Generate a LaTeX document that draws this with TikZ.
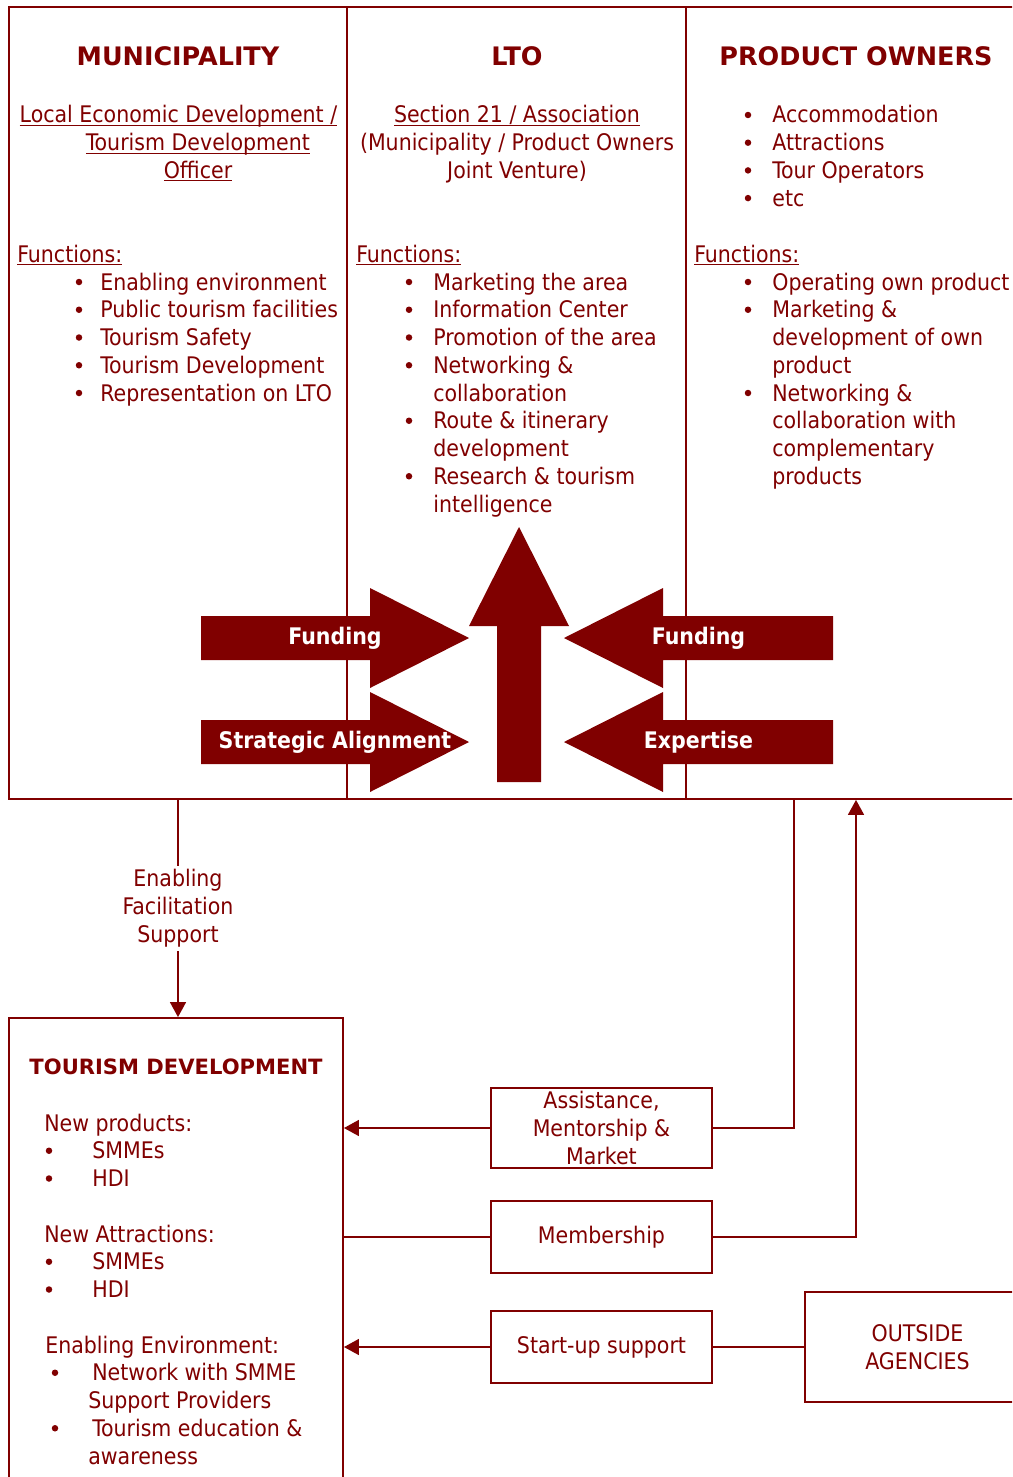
\documentclass[tikz,border=0pt]{standalone}
\usepackage{fontspec}
\setmainfont{DejaVu Sans Condensed}
\newfontfamily\wideface{DejaVu Sans}
\usepackage{tikz}
\usetikzlibrary{arrows.meta}
\definecolor{tdRed}{RGB}{128,0,0}
\newcommand\ulword[1]{\underline{\smash{#1}}}

\begin{document}
\begin{tikzpicture}[x=0.02cm, y=-0.02cm, color=tdRed,
    col/.style={draw, line width=1.1pt, minimum height=15.84cm},
    box/.style={draw, line width=1.1pt, minimum width=4.42cm, align=center,
                inner sep=0pt, font=\fontsize{13}{15.9}\selectfont},
    txt/.style={inner sep=0pt, font=\fontsize{13}{15.9}\selectfont},
    head/.style={inner sep=0pt, font=\wideface\bfseries\fontsize{14.5}{17}\selectfont},
    lbl/.style={inner sep=0pt, text=white, font=\bfseries\fontsize{13}{15.9}\selectfont},
    dot/.style={circle, fill, inner sep=0pt, minimum size=0.13cm},
    link/.style={line width=1.1pt},
    into/.style={link, -{Triangle[length=8.5pt, width=9pt]}}
  ]
  \useasboundingbox (0,0) rectangle (1012,1477);
  \clip (0,0) rectangle (1012,1477);

  % the three partners
  \node[col, minimum width=6.76cm] (muni) at (178,403) {};
  \node[col, minimum width=6.78cm] (lto) at (516.5,403) {};
  \node[col, minimum width=6.8cm] (po) at (856,403) {};

  % block arrows into the LTO
  \foreach \tx/\hx/\px/\yc/\word [count=\i] in {201/370/469/638/Funding,
      201/370/469/742/Strategic Alignment, 833/663/564/638/Funding,
      833/663/564/742/Expertise} {
    \fill (\tx,\yc-22) -- (\hx,\yc-22) -- (\hx,\yc-50) -- (\px,\yc)
      -- (\hx,\yc+50) -- (\hx,\yc+22) -- (\tx,\yc+22) -- cycle;
    \node[lbl] (flow\i) at ({(\tx+\px)/2},\yc) {\word};
  }
  \fill (497,782) -- (497,626) -- (469,626) -- (519,527) -- (569,626)
    -- (541,626) -- (541,782) -- cycle;

  % municipality
  \node[head] (muni-t) at (178,56) {MUNICIPALITY};
  \node[txt, anchor=base] (muni-s1) at (178.5,123) {\ulword{Local Economic Development /}};
  \node[txt, anchor=base] (muni-s2) at (198,151) {\ulword{Tourism Development}};
  \node[txt, anchor=base] (muni-s3) at (198,178) {\ulword{Officer}};
  \node[txt, anchor=base west] (muni-f) at (17,262) {\ulword{Functions:}};
  \foreach \word [count=\i from 0] in {Enabling environment,
      Public tourism facilities, Tourism Safety, Tourism Development,
      Representation on LTO} {
    \node[dot] (muni-d\i) at (79,282+27.75*\i) {};
    \node[txt, anchor=base west] (muni-i\i) at (100,290+27.75*\i) {\word};
  }

  % LTO
  \node[head] (lto-t) at (517,56) {LTO};
  \node[txt, anchor=base] (lto-s1) at (517,123) {\ulword{Section 21 / Association}};
  \node[txt, anchor=base] (lto-s2) at (517,151) {(Municipality / Product Owners};
  \node[txt, anchor=base] (lto-s3) at (517,178) {Joint Venture)};
  \node[txt, anchor=base west] (lto-f) at (356,262) {\ulword{Functions:}};
  \foreach \hasdot/\word [count=\i from 0] in {1/Marketing the area,
      1/Information Center, 1/Promotion of the area, 1/Networking \&,
      0/collaboration, 1/Route \& itinerary, 0/development,
      1/Research \& tourism, 0/intelligence} {
    \ifnum\hasdot=1 \node[dot] (lto-d\i) at (409,282+27.75*\i) {}; \fi
    \node[txt, anchor=base west] (lto-i\i) at (433,290+27.75*\i) {\word};
  }

  % product owners
  \node[head] (po-t) at (856,56) {PRODUCT OWNERS};
  \foreach \word [count=\i from 0] in {Accommodation, Attractions,
      Tour Operators, etc} {
    \node[dot] (po-d\i) at (748,115+27.7*\i) {};
    \node[txt, anchor=base west] (po-k\i) at (772,123+27.7*\i) {\word};
  }
  \node[txt, anchor=base west] (po-f) at (694,262) {\ulword{Functions:}};
  \foreach \hasdot/\word [count=\i from 0] in {1/Operating own product,
      1/Marketing \&, 0/development of own, 0/product, 1/Networking \&,
      0/collaboration with, 0/complementary, 0/products} {
    \ifnum\hasdot=1 \node[dot] (po-e\i) at (748,282+27.75*\i) {}; \fi
    \node[txt, anchor=base west] (po-i\i) at (772,290+27.75*\i) {\word};
  }

  % tourism development
  \node[col, minimum width=6.68cm, minimum height=9.44cm] (td) at (176,1254) {};
  \node[head, font=\wideface\bfseries\fontsize{12}{15}\selectfont] (td-t)
    at (176,1067) {TOURISM DEVELOPMENT};
  \foreach \n/\x/\bx/\word in {0/44/0/New products:, 1/92/49/SMMEs,
      2/92/49/HDI, 4/44/0/New Attractions:, 5/92/49/SMMEs, 6/92/49/HDI,
      8/45/0/Enabling Environment:, 9/92/55/Network with SMME,
      10/88/0/Support Providers, 11/92/55/Tourism education \&,
      12/88/0/awareness} {
    \ifnum\bx>0 \node[dot] (td-d\n) at (\bx,1123+27.75*\n) {}; \fi
    \node[txt, anchor=base west] (td-i\n) at (\x,1131+27.75*\n) {\word};
  }

  % support boxes
  \node[box, minimum height=1.6cm] (assist) at (601.5,1128) {Assistance,\\Mentorship \&\\Market};
  \node[box, minimum height=1.44cm] (member) at (601.5,1237) {Membership};
  \node[box, minimum height=1.44cm] (startup) at (601.5,1347) {Start-up support};
  \node[box, minimum width=4.5cm, minimum height=2.2cm] (outside) at (917.5,1347) {OUTSIDE\\AGENCIES};

  % connectors
  \draw[into] (muni.south) -- node[txt, fill=white, inner sep=2pt, align=center] (enab)
    {Enabling\\Facilitation\\Support} (muni.south |- td.north);
  \draw[into] (assist.west) -- (assist.west -| td.east);
  \draw[link] (assist.east) -| ([xshift=-1.24cm]po.south);
  \draw[link] (member.west) -- (member.west -| td.east);
  \draw[into] (member.east) -| (po.south);
  \draw[into] (startup.west) -- (startup.west -| td.east);
  \draw[link] (startup.east) -- (outside.west);
\end{tikzpicture}
\end{document}
